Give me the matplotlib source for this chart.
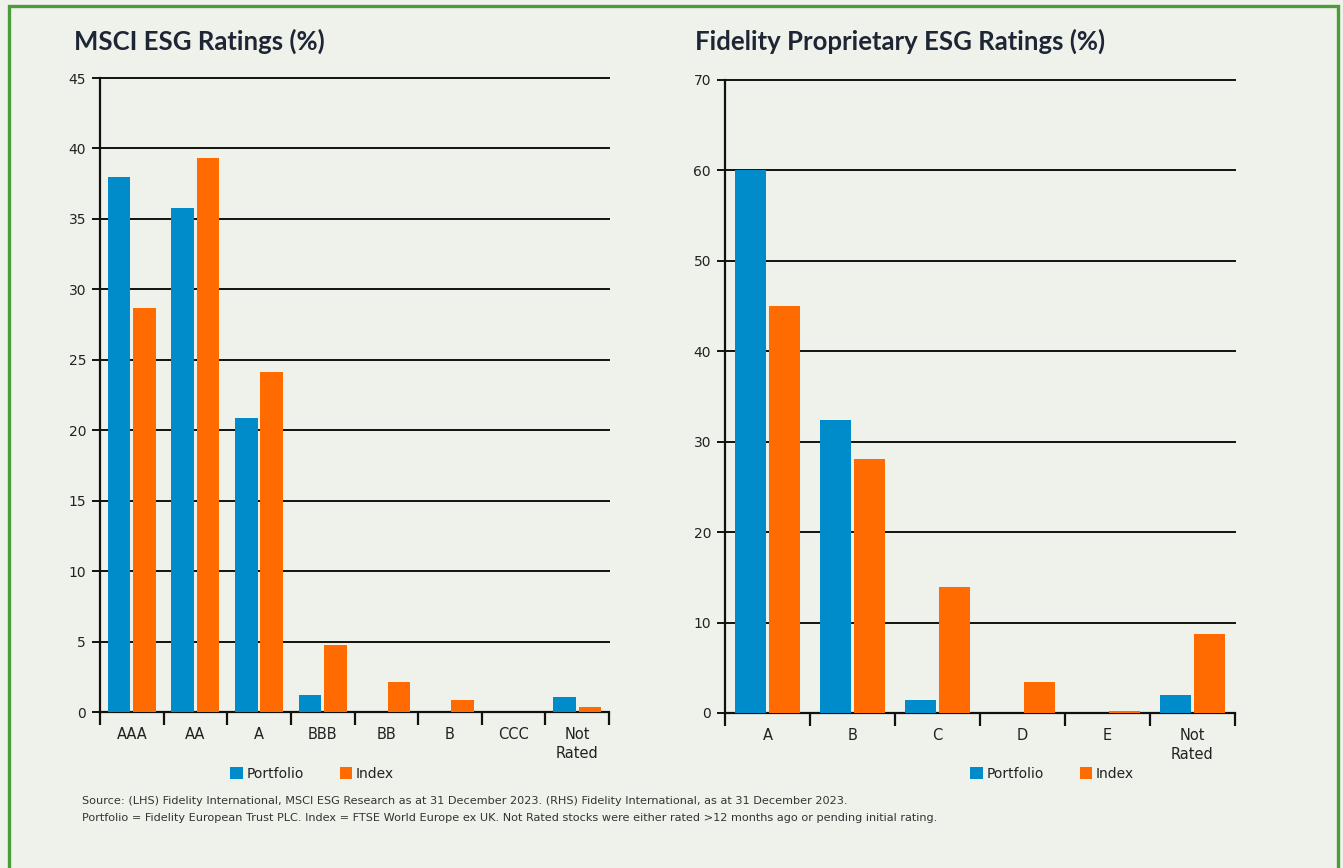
import matplotlib
matplotlib.use("Agg")
import matplotlib.pyplot as plt
from matplotlib.patches import Rectangle, Patch
import numpy as np

# ---- data ----
msci_categories = ["AAA", "AA", "A", "BBB", "BB", "B", "CCC", "Not\nRated"]
msci_portfolio = [38.0, 35.8, 20.9, 1.2, 0.0, 0.0, 0.0, 1.05]
msci_index = [28.7, 39.3, 24.1, 4.75, 2.1, 0.85, 0.0, 0.35]
msci_yticks = [0, 5, 10, 15, 20, 25, 30, 35, 40, 45]

fid_categories = ["A", "B", "C", "D", "E", "Not\nRated"]
fid_portfolio = [60.1, 32.4, 1.45, 0.0, 0.0, 2.0]
fid_index = [45.0, 28.1, 13.9, 3.4, 0.25, 8.75]
fid_yticks = [0, 10, 20, 30, 40, 50, 60, 70]

titles = ["MSCI ESG Ratings (%)", "Fidelity Proprietary ESG Ratings (%)"]
series_names = ["Portfolio", "Index"]
source_lines = [
    "Source: (LHS) Fidelity International, MSCI ESG Research as at 31 December 2023. (RHS) Fidelity International, as at 31 December 2023.",
    "Portfolio = Fidelity European Trust PLC. Index = FTSE World Europe ex UK. Not Rated stocks were either rated >12 months ago or pending initial rating.",
]

BLUE = "#008BCB"
ORANGE = "#FF6B00"
BG = "#EFF2EA"
GREEN = "#4C9A3C"
TITLE_C = "#1E2635"
TXT = "#222222"

W, H = 1343, 868
fig = plt.figure(figsize=(W / 100, H / 100), dpi=100)
fig.patch.set_facecolor(BG)

# green border
fig.add_artist(Rectangle((9 / W, -0.05), (1338 - 9) / W, (H - 6) / H + 0.05,
                         transform=fig.transFigure, fill=False,
                         edgecolor=GREEN, linewidth=2.4))

def px_ax(x0, x1, ytop, ybot):
    return fig.add_axes([x0 / W, 1 - ybot / H, (x1 - x0) / W, (ybot - ytop) / H])

def draw(ax, cats, port, idx, yticks, width, off):
    n = len(cats)
    x = np.arange(n)
    ax.set_facecolor("none")
    ax.bar(x - off, port, width, color=BLUE, zorder=3)
    ax.bar(x + off, idx, width, color=ORANGE, zorder=3)
    ax.set_xlim(-0.5, n - 0.5)
    ax.set_ylim(0, yticks[-1])
    ax.set_yticks(yticks)
    ax.yaxis.grid(True, color="#111111", linewidth=1.4, zorder=1)
    for gl in ax.get_ygridlines():
        gl.set_clip_on(False)
    ax.set_axisbelow(True)
    for s in ["top", "right"]:
        ax.spines[s].set_visible(False)
    for s in ["left", "bottom"]:
        ax.spines[s].set_color("#111111")
        ax.spines[s].set_linewidth(1.6)
    ax.tick_params(axis="y", direction="out", length=6, width=1.4, color="#111111",
                   labelsize=10, labelcolor=TXT, pad=4)
    ax.set_xticks(x)
    ax.set_xticklabels(cats, fontsize=10.5, color=TXT, linespacing=1.3)
    ax.tick_params(axis="x", which="major", length=0, pad=11)
    ax.set_xticks(np.arange(-0.5, n), minor=True)
    ax.tick_params(axis="x", which="minor", direction="out", length=9, width=1.6,
                   color="#111111")

ax1 = px_ax(100, 609, 78, 712)
draw(ax1, msci_categories, msci_portfolio, msci_index, msci_yticks, 0.355, 0.2)
ax2 = px_ax(725, 1235, 80, 713)
draw(ax2, fid_categories, fid_portfolio, fid_index, fid_yticks, 0.36, 0.2)

title_font = dict(family=["Lato", "DejaVu Sans"], fontsize=18.5, fontweight="bold",
                  color=TITLE_C, va="center", ha="left")
fig.text(74 / W, 1 - 41 / H, titles[0], **title_font)
fig.text(695 / W, 1 - 41 / H, titles[1], **title_font)

handles = [Patch(facecolor=BLUE, edgecolor="none"), Patch(facecolor=ORANGE, edgecolor="none")]
for cx in (312, 1052):
    fig.legend(handles, series_names, loc="center", bbox_to_anchor=(cx / W, 1 - 774 / H),
               ncol=2, frameon=False, fontsize=10, handlelength=0.9, handleheight=0.9,
               handletextpad=0.25, columnspacing=2.6, labelcolor=TXT)

fig.text(82 / W, 1 - 801 / H, source_lines[0], fontsize=8.1, color="#333333",
         va="center", ha="left")
fig.text(82 / W, 1 - 818 / H, source_lines[1], fontsize=8.1, color="#333333",
         va="center", ha="left")

fig.savefig("out.png", dpi=100, facecolor=BG)
